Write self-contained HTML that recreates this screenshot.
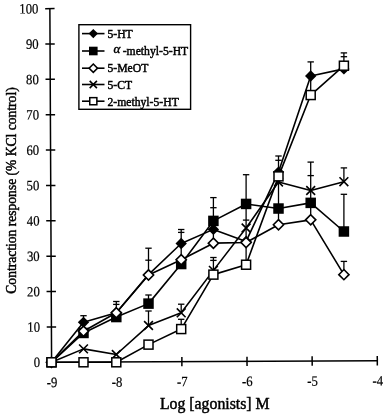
<!DOCTYPE html><html><head><meta charset="utf-8"><style>html,body{margin:0;padding:0;background:#fff;width:387px;height:416px;overflow:hidden}svg{display:block}text{font-family:"Liberation Serif","Times New Roman",serif;fill:#000;stroke:#000;stroke-width:0.45px}.tk text{stroke-width:0.2px}</style></head><body>
<svg width="387" height="416" viewBox="0 0 387 416">
<g transform="rotate(-0.28 51.6 362.3)">
<g stroke="#000" stroke-width="1.5" fill="none">
<path d="M51.6 8.60V362.3H377.30"/>
<path d="M46.90 362.30H56.30"/>
<path d="M46.90 326.93H56.30"/>
<path d="M46.90 291.56H56.30"/>
<path d="M46.90 256.19H56.30"/>
<path d="M46.90 220.82H56.30"/>
<path d="M46.90 185.45H56.30"/>
<path d="M46.90 150.08H56.30"/>
<path d="M46.90 114.71H56.30"/>
<path d="M46.90 79.34H56.30"/>
<path d="M46.90 43.97H56.30"/>
<path d="M46.90 8.60H56.30"/>
<path d="M51.60 357.60V367.00"/>
<path d="M116.74 357.60V367.00"/>
<path d="M181.88 357.60V367.00"/>
<path d="M247.02 357.60V367.00"/>
<path d="M312.16 357.60V367.00"/>
<path d="M377.30 357.60V367.00"/>
</g>
<g font-size="14.2" text-anchor="end" class="tk">
<text transform="translate(40.20 367.00) scale(0.9 1)">0</text>
<text transform="translate(40.20 331.63) scale(0.9 1)">10</text>
<text transform="translate(40.20 296.26) scale(0.9 1)">20</text>
<text transform="translate(40.20 260.89) scale(0.9 1)">30</text>
<text transform="translate(40.20 225.52) scale(0.9 1)">40</text>
<text transform="translate(40.20 190.15) scale(0.9 1)">50</text>
<text transform="translate(40.20 154.78) scale(0.9 1)">60</text>
<text transform="translate(40.20 119.41) scale(0.9 1)">70</text>
<text transform="translate(40.20 84.04) scale(0.9 1)">80</text>
<text transform="translate(40.20 48.67) scale(0.9 1)">90</text>
<text transform="translate(40.20 13.30) scale(0.9 1)">100</text>
</g>
<g font-size="14.2" text-anchor="middle" class="tk">
<text transform="translate(51.90 387.00) scale(0.9 1)">-9</text>
<text transform="translate(117.04 387.00) scale(0.9 1)">-8</text>
<text transform="translate(182.18 387.00) scale(0.9 1)">-7</text>
<text transform="translate(247.32 387.00) scale(0.9 1)">-6</text>
<text transform="translate(312.46 387.00) scale(0.9 1)">-5</text>
<text transform="translate(377.60 387.00) scale(0.9 1)">-4</text>
</g>
</g>
<text x="214.8" y="408.9" font-size="15.8" text-anchor="middle">Log [agonists] M</text>
<text transform="translate(16.4 190.5) rotate(-90) scale(0.93 1)" font-size="14.6" text-anchor="middle">Contraction response (% KCl control)</text>
<g stroke="#000" stroke-width="1.3" fill="none">
<path d="M83.50 315.70V321.00"/>
<path d="M116.30 301.50V312.70"/>
<path d="M148.50 248.20V274.60"/>
<path d="M148.50 295.00V303.70"/>
<path d="M148.50 311.00V325.40"/>
<path d="M181.20 229.50V259.50"/>
<path d="M181.20 304.20V312.90"/>
<path d="M181.20 319.30V328.90"/>
<path d="M213.40 197.60V243.00"/>
<path d="M213.40 257.50V274.50"/>
<path d="M246.10 174.70V264.80"/>
<path d="M278.50 156.00V224.70"/>
<path d="M310.70 61.90V95.00"/>
<path d="M310.70 162.10V220.50"/>
<path d="M343.90 52.90V65.80"/>
<path d="M343.90 167.90V181.90"/>
<path d="M343.90 194.30V231.60"/>
<path d="M343.90 261.40V274.60"/>
<path d="M80.30 315.70H86.70"/>
<path d="M113.10 301.50H119.50"/>
<path d="M113.10 304.40H119.50"/>
<path d="M145.30 248.20H151.70"/>
<path d="M145.30 260.20H151.70"/>
<path d="M145.30 295.00H151.70"/>
<path d="M145.30 311.00H151.70"/>
<path d="M178.00 229.50H184.40"/>
<path d="M178.00 232.40H184.40"/>
<path d="M178.00 304.20H184.40"/>
<path d="M178.00 319.30H184.40"/>
<path d="M210.20 197.60H216.60"/>
<path d="M210.20 207.70H216.60"/>
<path d="M210.20 257.50H216.60"/>
<path d="M210.20 260.40H216.60"/>
<path d="M242.90 174.70H249.30"/>
<path d="M242.90 220.10H249.30"/>
<path d="M275.30 156.00H281.70"/>
<path d="M275.30 160.30H281.70"/>
<path d="M307.50 61.90H313.90"/>
<path d="M307.50 162.10H313.90"/>
<path d="M307.50 175.60H313.90"/>
<path d="M340.70 52.90H347.10"/>
<path d="M340.70 56.70H347.10"/>
<path d="M340.70 167.90H347.10"/>
<path d="M340.70 194.30H347.10"/>
<path d="M340.70 261.40H347.10"/>
</g>
<polyline points="51.50,362.30 83.50,322.35 116.30,312.81 148.50,274.63 181.20,243.52 213.40,229.38 246.10,241.40 278.50,172.12 310.70,75.96 343.90,68.89" fill="none" stroke="#000" stroke-width="1.6" stroke-linejoin="round"/>
<polyline points="51.50,362.30 83.50,332.96 116.30,317.05 148.50,303.62 181.20,264.03 213.40,220.90 246.10,203.93 278.50,208.53 310.70,202.87 343.90,231.50" fill="none" stroke="#000" stroke-width="1.6" stroke-linejoin="round"/>
<polyline points="51.50,362.30 83.50,331.19 116.30,312.81 148.50,274.99 181.20,259.79 213.40,243.17 246.10,242.46 278.50,224.79 310.70,219.84 343.90,274.63" fill="none" stroke="#000" stroke-width="1.6" stroke-linejoin="round"/>
<polyline points="51.50,362.30 83.50,348.87 116.30,354.52 148.50,325.54 181.20,312.81 213.40,270.39 246.10,227.97 278.50,182.02 310.70,190.50 343.90,181.66" fill="none" stroke="#000" stroke-width="1.6" stroke-linejoin="round"/>
<polyline points="51.50,362.30 83.50,362.30 116.30,362.30 148.50,344.62 181.20,329.07 213.40,274.63 246.10,264.73 278.50,176.36 310.70,95.05 343.90,65.71" fill="none" stroke="#000" stroke-width="1.6" stroke-linejoin="round"/>
<path d="M51.50 356.60L57.20 362.30L51.50 368.00L45.80 362.30Z" fill="#000"/>
<path d="M83.50 316.65L89.20 322.35L83.50 328.05L77.80 322.35Z" fill="#000"/>
<path d="M116.30 307.11L122.00 312.81L116.30 318.51L110.60 312.81Z" fill="#000"/>
<path d="M148.50 268.93L154.20 274.63L148.50 280.33L142.80 274.63Z" fill="#000"/>
<path d="M181.20 237.82L186.90 243.52L181.20 249.22L175.50 243.52Z" fill="#000"/>
<path d="M213.40 223.68L219.10 229.38L213.40 235.08L207.70 229.38Z" fill="#000"/>
<path d="M246.10 235.70L251.80 241.40L246.10 247.10L240.40 241.40Z" fill="#000"/>
<path d="M278.50 166.42L284.20 172.12L278.50 177.82L272.80 172.12Z" fill="#000"/>
<path d="M310.70 70.26L316.40 75.96L310.70 81.66L305.00 75.96Z" fill="#000"/>
<path d="M343.90 63.19L349.60 68.89L343.90 74.59L338.20 68.89Z" fill="#000"/>
<rect x="46.25" y="357.05" width="10.50" height="10.50" fill="#000"/>
<rect x="78.25" y="327.71" width="10.50" height="10.50" fill="#000"/>
<rect x="111.05" y="311.80" width="10.50" height="10.50" fill="#000"/>
<rect x="143.25" y="298.37" width="10.50" height="10.50" fill="#000"/>
<rect x="175.95" y="258.78" width="10.50" height="10.50" fill="#000"/>
<rect x="208.15" y="215.65" width="10.50" height="10.50" fill="#000"/>
<rect x="240.85" y="198.68" width="10.50" height="10.50" fill="#000"/>
<rect x="273.25" y="203.28" width="10.50" height="10.50" fill="#000"/>
<rect x="305.45" y="197.62" width="10.50" height="10.50" fill="#000"/>
<rect x="338.65" y="226.25" width="10.50" height="10.50" fill="#000"/>
<path d="M51.50 357.20L56.60 362.30L51.50 367.40L46.40 362.30Z" fill="#fff" stroke="#000" stroke-width="1.6"/>
<path d="M83.50 326.09L88.60 331.19L83.50 336.29L78.40 331.19Z" fill="#fff" stroke="#000" stroke-width="1.6"/>
<path d="M116.30 307.71L121.40 312.81L116.30 317.91L111.20 312.81Z" fill="#fff" stroke="#000" stroke-width="1.6"/>
<path d="M148.50 269.89L153.60 274.99L148.50 280.09L143.40 274.99Z" fill="#fff" stroke="#000" stroke-width="1.6"/>
<path d="M181.20 254.69L186.30 259.79L181.20 264.89L176.10 259.79Z" fill="#fff" stroke="#000" stroke-width="1.6"/>
<path d="M213.40 238.07L218.50 243.17L213.40 248.27L208.30 243.17Z" fill="#fff" stroke="#000" stroke-width="1.6"/>
<path d="M246.10 237.36L251.20 242.46L246.10 247.56L241.00 242.46Z" fill="#fff" stroke="#000" stroke-width="1.6"/>
<path d="M278.50 219.69L283.60 224.79L278.50 229.89L273.40 224.79Z" fill="#fff" stroke="#000" stroke-width="1.6"/>
<path d="M310.70 214.74L315.80 219.84L310.70 224.94L305.60 219.84Z" fill="#fff" stroke="#000" stroke-width="1.6"/>
<path d="M343.90 269.53L349.00 274.63L343.90 279.73L338.80 274.63Z" fill="#fff" stroke="#000" stroke-width="1.6"/>
<path d="M47.10 357.90L55.90 366.70M55.90 357.90L47.10 366.70" stroke="#000" stroke-width="1.6" fill="none"/>
<path d="M79.10 344.47L87.90 353.27M87.90 344.47L79.10 353.27" stroke="#000" stroke-width="1.6" fill="none"/>
<path d="M111.90 350.12L120.70 358.92M120.70 350.12L111.90 358.92" stroke="#000" stroke-width="1.6" fill="none"/>
<path d="M144.10 321.14L152.90 329.94M152.90 321.14L144.10 329.94" stroke="#000" stroke-width="1.6" fill="none"/>
<path d="M176.80 308.41L185.60 317.21M185.60 308.41L176.80 317.21" stroke="#000" stroke-width="1.6" fill="none"/>
<path d="M209.00 265.99L217.80 274.79M217.80 265.99L209.00 274.79" stroke="#000" stroke-width="1.6" fill="none"/>
<path d="M241.70 223.57L250.50 232.37M250.50 223.57L241.70 232.37" stroke="#000" stroke-width="1.6" fill="none"/>
<path d="M274.10 177.62L282.90 186.42M282.90 177.62L274.10 186.42" stroke="#000" stroke-width="1.6" fill="none"/>
<path d="M306.30 186.10L315.10 194.90M315.10 186.10L306.30 194.90" stroke="#000" stroke-width="1.6" fill="none"/>
<path d="M339.50 177.26L348.30 186.06M348.30 177.26L339.50 186.06" stroke="#000" stroke-width="1.6" fill="none"/>
<rect x="47.00" y="357.80" width="9.00" height="9.00" fill="#fff" stroke="#000" stroke-width="1.5"/>
<rect x="79.00" y="357.80" width="9.00" height="9.00" fill="#fff" stroke="#000" stroke-width="1.5"/>
<rect x="111.80" y="357.80" width="9.00" height="9.00" fill="#fff" stroke="#000" stroke-width="1.5"/>
<rect x="144.00" y="340.12" width="9.00" height="9.00" fill="#fff" stroke="#000" stroke-width="1.5"/>
<rect x="176.70" y="324.57" width="9.00" height="9.00" fill="#fff" stroke="#000" stroke-width="1.5"/>
<rect x="208.90" y="270.13" width="9.00" height="9.00" fill="#fff" stroke="#000" stroke-width="1.5"/>
<rect x="241.60" y="260.23" width="9.00" height="9.00" fill="#fff" stroke="#000" stroke-width="1.5"/>
<rect x="274.00" y="171.86" width="9.00" height="9.00" fill="#fff" stroke="#000" stroke-width="1.5"/>
<rect x="306.20" y="90.55" width="9.00" height="9.00" fill="#fff" stroke="#000" stroke-width="1.5"/>
<rect x="339.40" y="61.21" width="9.00" height="9.00" fill="#fff" stroke="#000" stroke-width="1.5"/>
<rect x="78.9" y="24.7" width="111.7" height="84.6" fill="#fff" stroke="#000" stroke-width="1.4"/>
<path d="M82 33.60H104.5" stroke="#000" stroke-width="1.6"/>
<path d="M93.30 28.93L97.97 33.60L93.30 38.27L88.63 33.60Z" fill="#000"/>
<text x="107.4" y="38.20" font-size="11.7">5-HT</text>
<path d="M82 51.00H104.5" stroke="#000" stroke-width="1.6"/>
<rect x="89.00" y="46.70" width="8.61" height="8.61" fill="#000"/>
<text x="113.4" y="53.20" font-size="13" font-style="italic">α</text>
<text x="122.7" y="54.60" font-size="11.7">-methyl-5-HT</text>
<path d="M82 68.20H104.5" stroke="#000" stroke-width="1.6"/>
<path d="M93.30 64.02L97.48 68.20L93.30 72.38L89.12 68.20Z" fill="#fff" stroke="#000" stroke-width="1.6"/>
<text x="107.4" y="71.90" font-size="11.7">5-MeOT</text>
<path d="M82 84.50H104.5" stroke="#000" stroke-width="1.6"/>
<path d="M89.69 80.89L96.91 88.11M96.91 80.89L89.69 88.11" stroke="#000" stroke-width="1.6" fill="none"/>
<text x="107.4" y="88.60" font-size="11.7">5-CT</text>
<path d="M82 101.20H104.5" stroke="#000" stroke-width="1.6"/>
<rect x="89.75" y="97.65" width="7.11" height="7.11" fill="#fff" stroke="#000" stroke-width="1.5"/>
<text x="107.4" y="105.70" font-size="11.7">2-methyl-5-HT</text>
</svg></body></html>
